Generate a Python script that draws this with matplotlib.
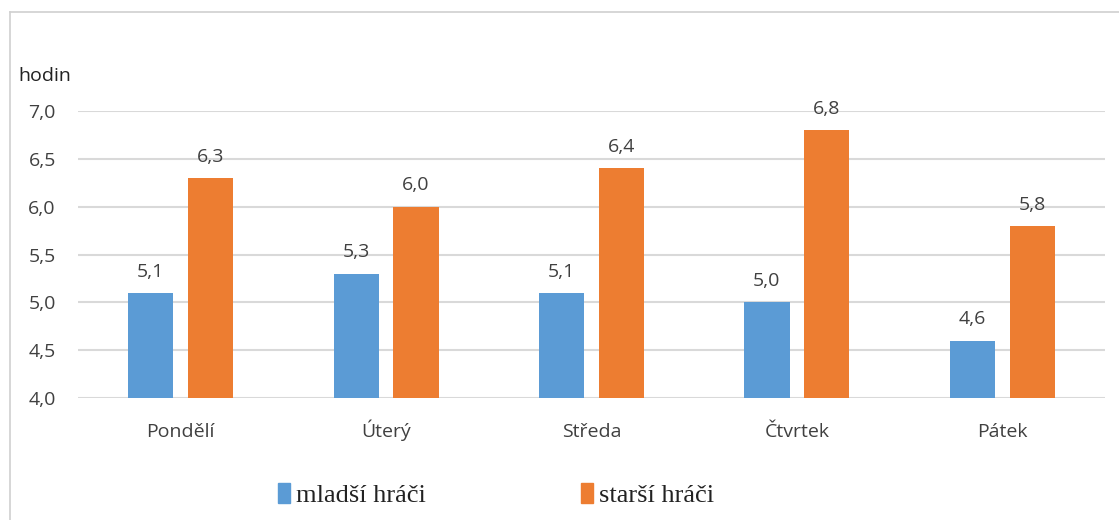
import matplotlib.pyplot as plt
import numpy as np
from matplotlib.patches import Rectangle
from matplotlib.transforms import blended_transform_factory

days = ["Pondělí", "Úterý", "Středa", "Čtvrtek", "Pátek"]
mladsi = [5.1, 5.3, 5.1, 5.0, 4.6]
starsi = [6.3, 6.0, 6.4, 6.8, 5.8]
series_names = ["mladší hráči", "starší hráči"]
yticks = [4.0, 4.5, 5.0, 5.5, 6.0, 6.5, 7.0]

blue = "#5b9bd5"
orange = "#ed7d31"
text_col = "#404040"

plt.rcParams["font.family"] = ["Open Sans", "DejaVu Sans"]

fig = plt.figure(figsize=(11.19, 5.2), dpi=100)
W, H = 1119, 520
# plot area in pixels: x 78..1105, y 111 (7.0) .. 398 (4.0)
ax = fig.add_axes([78 / W, 1 - 398 / H, (1105 - 78) / W, (398 - 111) / H])

x = np.arange(len(days))
w = 0.22
off = 0.146
ax.bar(x - off, np.array(mladsi) - 4, w, bottom=4, color=blue, zorder=3)
ax.bar(x + off, np.array(starsi) - 4, w, bottom=4, color=orange, zorder=3)

for xs, vals in ((x - off, mladsi), (x + off, starsi)):
    for xi, v in zip(xs, vals):
        ax.text(xi, v + 0.17, f"{v:.1f}".replace(".", ","), ha="center", va="baseline",
                fontsize=14, color=text_col)

ax.set_xlim(-0.5, len(days) - 0.5)
ax.set_ylim(4.0, 7.0)
ax.set_yticks(yticks)
ax.set_yticklabels([f"{t:.1f}".replace(".", ",") for t in yticks], fontsize=14, color=text_col)
ax.set_xticks(x)
ax.set_xticklabels([])
ax.tick_params(length=0, axis="y", pad=16)
ax.tick_params(length=0, axis="x")
ax.grid(axis="y", color="#d9d9d9", linewidth=1.5, zorder=0)
for s in ax.spines.values():
    s.set_visible(False)

# category labels on a common baseline
tr = blended_transform_factory(ax.transData, fig.transFigure)
for xi, d in zip(x, days):
    ax.text(xi, 1 - 437 / H, d, transform=tr, ha="center", va="baseline",
            fontsize=14, color=text_col)

fig.text(18 / W, 1 - 81 / H, "hodin", fontsize=14, color="#222222", va="baseline", ha="left")

# outer chart border (left and top visible)
fig.add_artist(plt.Line2D([10 / W, 10 / W], [0, 1 - 12 / H], color="#d0d0d0", lw=1.2,
                          transform=fig.transFigure))
fig.add_artist(plt.Line2D([10 / W, 1], [1 - 12 / H, 1 - 12 / H], color="#d0d0d0", lw=1.2,
                          transform=fig.transFigure))

# legend
leg_items = [(278, blue, series_names[0]), (581, orange, series_names[1])]
for px, col, name in leg_items:
    fig.add_artist(Rectangle((px / W, 1 - 503 / H), 12 / W, 20 / H, color=col,
                             transform=fig.transFigure))
    fig.text((px + 18) / W, 1 - 502 / H, name, fontsize=19, family="Liberation Serif",
             color="#222222", va="baseline", ha="left")

fig.savefig("out.png", dpi=100)
